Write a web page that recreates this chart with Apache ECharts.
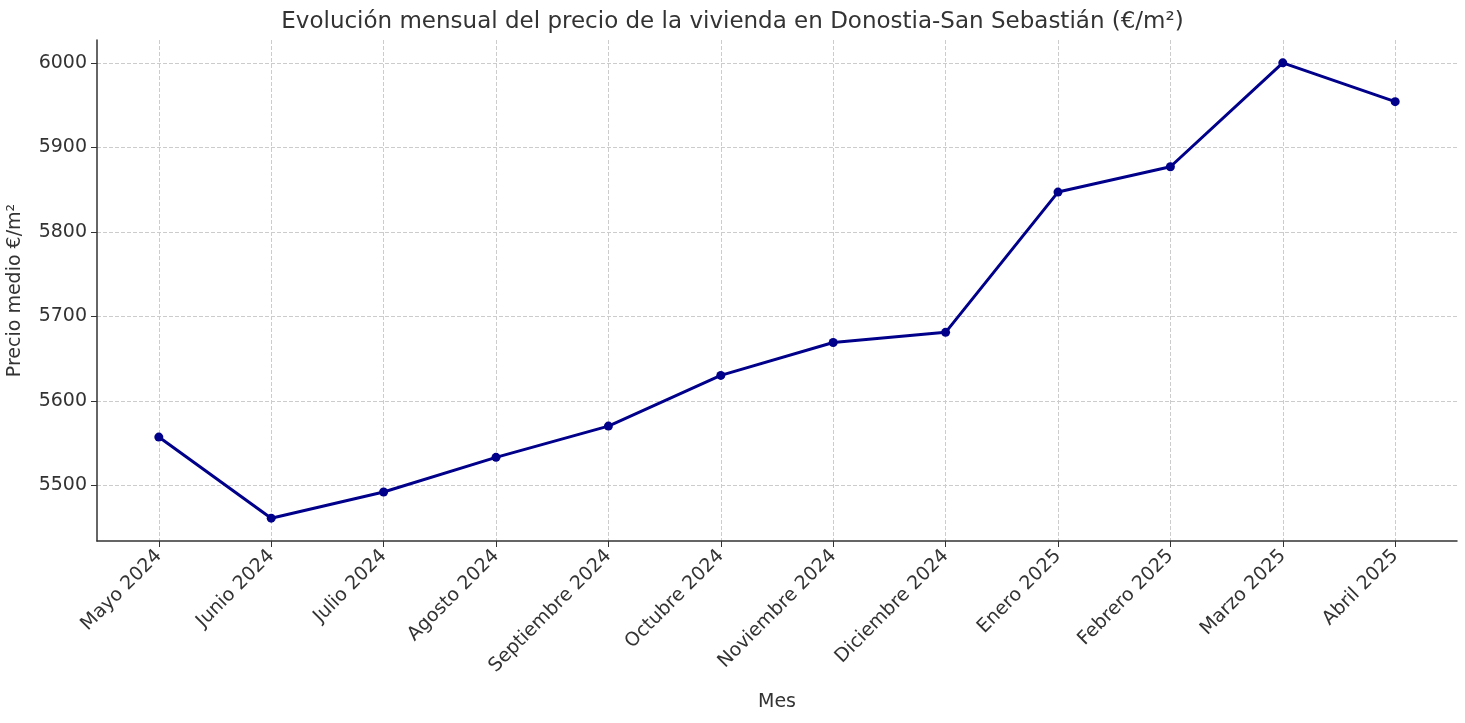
<!DOCTYPE html>
<html>
<head>
<meta charset="utf-8">
<script src="https://cdn.jsdelivr.net/npm/echarts@6/dist/echarts.min.js"></script>
<style>html,body{margin:0;padding:0;background:#fff}#chart{width:1465px;height:723px}</style>
</head>
<body>
<div id="chart"></div>
<script>
var months = ['Mayo 2024', 'Junio 2024', 'Julio 2024', 'Agosto 2024', 'Septiembre 2024', 'Octubre 2024',
	'Noviembre 2024', 'Diciembre 2024', 'Enero 2025', 'Febrero 2025', 'Marzo 2025', 'Abril 2025'];
var prices = [5557, 5461, 5492, 5533, 5570, 5630, 5669, 5681, 5847, 5877, 6000, 5954];
var yTicks = [5500, 5600, 5700, 5800, 5900, 6000];

var idx = months.map(function (m, i) { return i; });
var myChart = echarts.init(document.getElementById('chart'));
var font = 'DejaVu Sans';
var dash = { show: true, lineStyle: { type: 'dashed', color: '#cccccc', width: 1 } };

myChart.setOption({
	animation: false,
	title: {
		text: 'Evolución mensual del precio de la vivienda en Donostia-San Sebastián (€/m²)',
		left: 'center', top: 6,
		textStyle: { fontFamily: font, fontSize: 23, fontWeight: 'normal', color: '#333' }
	},
	grid: { left: 97, right: 8, top: 40, bottom: 182, outerBoundsMode: 'none', containLabel: false },
	xAxis: {
		type: 'value', min: -0.55, max: 11.55,
		name: 'Mes', nameLocation: 'middle', nameGap: 152,
		nameTextStyle: { fontFamily: font, fontSize: 19, color: '#333' },
		axisLine: { show: true, onZero: false, lineStyle: { color: '#333', width: 1.5 } },
		axisTick: { show: true, customValues: idx, length: 6, lineStyle: { color: '#333' } },
		axisLabel: {
			customValues: idx, rotate: 45, fontFamily: font, fontSize: 19, color: '#333', margin: 12,
			formatter: function (v) { return months[Math.round(v)]; }
		},
		splitLine: dash
	},
	yAxis: {
		type: 'value', min: 5434, max: 6027,
		name: 'Precio medio €/m²', nameLocation: 'middle', nameGap: 72,
		nameTextStyle: { fontFamily: font, fontSize: 19, color: '#333' },
		axisLine: { show: true, onZero: false, lineStyle: { color: '#333', width: 1.5 } },
		axisTick: { show: true, customValues: yTicks, length: 6, lineStyle: { color: '#333' } },
		axisLabel: { customValues: yTicks, fontFamily: font, fontSize: 19, color: '#333', margin: 10,
			formatter: function (v) { return String(v); } },
		splitLine: dash
	},
	series: [{
		type: 'line',
		data: prices.map(function (p, i) { return [i, p]; }),
		symbol: 'circle', symbolSize: 9,
		lineStyle: { color: '#00008b', width: 3 },
		itemStyle: { color: '#00008b' }
	}]
});
</script>
</body>
</html>
